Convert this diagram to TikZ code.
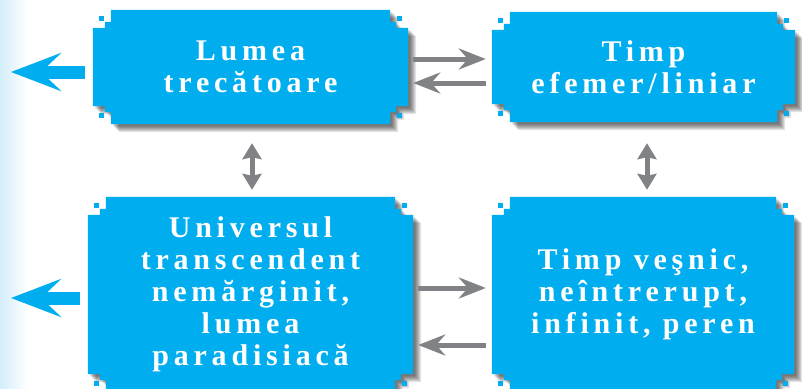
\documentclass[tikz,border=0pt]{standalone}
\usepackage{fontspec}
\setmainfont{Liberation Serif}
\usepackage{tikz}
\usetikzlibrary{arrows.meta,calc,backgrounds}
\definecolor{panelblue}{HTML}{00AEEF}
\definecolor{arrowgray}{HTML}{808285}
\definecolor{haze}{HTML}{D3EDFA}
\newcommand{\panelpath}[1]{($(#1.north west)+(18,0)$) -- ($(#1.north east)+(-18,0)$) -- ++(0,12) -- ++(6,0) -- ++(0,6) -- ++(12,0)
  -- ($(#1.south east)+(0,-18)$) -- ++(-12,0) -- ++(0,6) -- ++(-6,0) -- ++(0,12)
  -- ($(#1.south west)+(18,0)$) -- ++(0,-12) -- ++(-6,0) -- ++(0,-6) -- ++(-12,0)
  -- ($(#1.north west)+(0,18)$) -- ++(12,0) -- ++(0,-6) -- ++(6,0) -- cycle}
\newcommand{\paneldots}[1]{%
  \fill[panelblue] ($(#1.north west)+(6,6)$) rectangle ++(5,5);
  \fill[panelblue] ($(#1.north east)+(-6,6)$) rectangle ++(-5,5);
  \fill[panelblue] ($(#1.south west)+(6,-6)$) rectangle ++(5,-5);
  \fill[panelblue] ($(#1.south east)+(-6,-6)$) rectangle ++(-5,-5);}
\begin{document}
\begin{tikzpicture}[x=1pt,y=-1pt,line join=miter,
    panel/.style={inner sep=0pt,align=center,text=white,
      font=\addfontfeatures{LetterSpace=16}\bfseries\fontsize{30}{32}\selectfont},
    grayarrow/.style={arrowgray,line width=5pt,-{Stealth[length=27pt,width=21pt,inset=9pt]}},
    updown/.style={arrowgray,line width=5pt,{Stealth[length=16pt,width=19pt,inset=2pt]}-{Stealth[length=16pt,width=19pt,inset=2pt]}},
    bluearrow/.style={panelblue,line width=13pt,-{Stealth[length=50pt,width=38pt,inset=20pt]}}]
\useasboundingbox (0,0) rectangle (802,388);
\node[panel,minimum width=315pt,minimum height=114pt] (lumea) at (250.5,67) {Lumea\\trecătoare};
\node[panel,minimum width=303pt,minimum height=110pt] (efemer) at (643.5,67) {Timp\\efemer/liniar};
\node[panel,minimum width=325pt,minimum height=195pt] (univers) at (250.5,294.5) {Universul\\transcendent\\nemărginit,\\lumea\\paradisiacă};
\node[panel,minimum width=302pt,minimum height=195pt] (vesnic) at (643,294.5) {Timp veşnic,\\neîntrerupt,\\infinit, peren};
\begin{scope}[on background layer]
  \shade[left color=haze,right color=white] (0,0) rectangle (27,388);
  \foreach \n in {lumea,efemer,univers,vesnic}{
    \foreach \s in {2,3,...,8}
      \fill[black,opacity=0.1,transform canvas={xshift=\s pt,yshift=-\s pt}] \panelpath{\n};
    \fill[panelblue] \panelpath{\n};
    \paneldots{\n}
  }
\end{scope}
\coordinate (outtop) at (11,72);
\coordinate (outbot) at (11,298);
\draw[bluearrow,shorten <=8pt] ([yshift=-5pt]lumea.west) -- (outtop);
\draw[bluearrow,shorten <=8pt] ([yshift=-3.5pt]univers.west) -- (outbot);
\draw[grayarrow,shorten <=5pt,shorten >=6pt] ([yshift=8pt]lumea.east) -- ([yshift=8pt]efemer.west);
\draw[grayarrow,shorten <=6pt,shorten >=5pt] ([yshift=-16pt]efemer.west) -- ([yshift=-16pt]lumea.east);
\draw[grayarrow,shorten <=5pt,shorten >=6pt] ([yshift=6.5pt]univers.east) -- ([yshift=6.5pt]vesnic.west);
\draw[grayarrow,shorten <=6pt,shorten >=5pt] ([yshift=-50.5pt]vesnic.west) -- ([yshift=-50.5pt]univers.east);
\draw[updown,shorten <=19pt,shorten >=7pt] ([xshift=1.5pt]lumea.south) -- ([xshift=1.5pt]univers.north);
\draw[updown,shorten <=21pt,shorten >=7pt] ([xshift=3.5pt]efemer.south) -- ([xshift=4pt]vesnic.north);
\end{tikzpicture}
\end{document}
